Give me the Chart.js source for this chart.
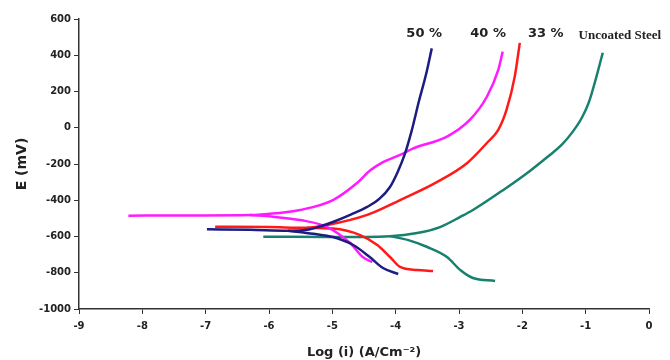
<!DOCTYPE html>
<html>
<head>
<meta charset="utf-8">
<script src="https://cdn.jsdelivr.net/npm/chart.js@4.4.1/dist/chart.umd.min.js"></script>
<style>
  html, body { margin: 0; padding: 0; background: #fff; }
  #wrap { width: 670px; height: 360px; }
</style>
</head>
<body>
<div id="wrap"><canvas id="polChart" width="670" height="360"></canvas></div>
<script>
// polarization curves: [log i, E (mV)]
// anodic = left start -> junction -> top, cathodic = junction -> bottom end
const c50Anodic = [[-6.98,-560],[-6.3,-563],[-5.7,-568],[-5.4,-563],[-5.2,-545],[-4.99,-520],[-4.7,-478],[-4.45,-437],[-4.25,-390],[-4.09,-327],[-3.97,-245],[-3.86,-150],[-3.75,-20],[-3.63,150],[-3.52,295],[-3.43,438]];
const c50Cathodic = [[-5.7,-568],[-5.3,-585],[-4.99,-603],[-4.67,-647],[-4.41,-713],[-4.2,-774],[-3.96,-807]];

const c40Anodic = [[-8.22,-485],[-7.2,-484],[-6.3,-482],[-5.9,-472],[-5.51,-454],[-4.99,-399],[-4.61,-305],[-4.4,-235],[-4.2,-190],[-3.93,-150],[-3.73,-115],[-3.19,-49],[-2.83,43],[-2.56,171],[-2.38,319],[-2.31,420]];
const c40Cathodic = [[-6.3,-482],[-5.94,-491],[-5.51,-509],[-5.08,-548],[-4.72,-636],[-4.52,-713],[-4.37,-741]];

const c33Anodic = [[-6.85,-546],[-6.0,-548],[-5.4,-552],[-5.08,-537],[-4.45,-481],[-3.93,-399],[-3.35,-300],[-2.87,-194],[-2.56,-84],[-2.38,-12],[-2.25,98],[-2.12,282],[-2.04,468]];
const c33Cathodic = [[-5.4,-552],[-4.99,-556],[-4.56,-592],[-4.29,-647],[-4.09,-713],[-3.93,-768],[-3.66,-785],[-3.41,-790]];

const steelAnodic = [[-6.09,-601],[-5.0,-603],[-4.09,-598],[-3.66,-581],[-3.30,-548],[-2.98,-492],[-2.78,-454],[-2.30,-343],[-1.88,-238],[-1.6,-160],[-1.38,-95],[-1.2,-20],[-1.06,55],[-0.95,140],[-0.83,282],[-0.73,414]];
const steelCathodic = [[-4.09,-598],[-3.8,-620],[-3.50,-658],[-3.19,-713],[-2.98,-785],[-2.78,-829],[-2.43,-845]];

const curveNames = ['50 %', '40 %', '33 %', 'Uncoated Steel'];
const curveColors = ['#1c1c82', '#ff1aff', '#ff1a1a', '#17806e'];
// where each curve name sits (log i, E)
const nameX = [-3.55, -2.54, -1.63, -0.46];
const nameY = [522, 522, 518, 506];

const xTicks = { min: -9, max: 0, step: 1 };
const yTicks = { min: -1000, max: 600, step: 200 };

function toXY(arr) {
  return arr.map(p => ({ x: p[0], y: p[1] }));
}

const branches = [
  [c50Anodic, c50Cathodic],
  [c40Anodic, c40Cathodic],
  [c33Anodic, c33Cathodic],
  [steelAnodic, steelCathodic]
];

const datasets = [];
branches.forEach((pair, i) => {
  pair.forEach(branch => {
    datasets.push({
      label: curveNames[i],
      data: toXY(branch),
      borderColor: curveColors[i],
      backgroundColor: curveColors[i],
      borderWidth: 2.5,
      pointRadius: 0,
      cubicInterpolationMode: 'monotone',
      fill: false
    });
  });
});

// writes the curve names above the curve tops
const curveLabels = {
  id: 'curveLabels',
  afterDatasetsDraw(chart) {
    const ctx = chart.ctx;
    const xs = chart.scales.x, ys = chart.scales.y;
    ctx.save();
    ctx.fillStyle = '#222';
    ctx.textAlign = 'center';
    ctx.textBaseline = 'middle';
    curveNames.forEach((name, i) => {
      ctx.font = i < 3 ? 'bold 13px "DejaVu Sans", sans-serif' : 'bold 13px "Liberation Serif", serif';
      ctx.fillText(name, xs.getPixelForValue(nameX[i]), ys.getPixelForValue(nameY[i]));
    });
    ctx.restore();
  }
};

const tickFont = { family: '"DejaVu Sans", sans-serif', size: 10, weight: 'bold' };

const chart = new Chart(document.getElementById('polChart'), {
  type: 'line',
  data: { datasets: datasets },
  options: {
    responsive: false,
    animation: false,
    layout: { padding: { top: 19, right: 21, left: 14, bottom: 0 } },
    plugins: {
      legend: { display: false },
      tooltip: { enabled: false }
    },
    scales: {
      x: {
        type: 'linear',
        min: xTicks.min,
        max: xTicks.max,
        ticks: { stepSize: xTicks.step, color: '#222', font: tickFont, padding: 6 },
        grid: { drawOnChartArea: false, drawTicks: true, tickLength: 5, color: '#333' },
        border: { display: true, color: '#333', width: 1.5 },
        title: {
          display: true,
          text: 'Log (i) (A/Cm⁻²)',
          color: '#222',
          font: { family: '"DejaVu Sans", sans-serif', size: 13, weight: 'bold' },
          padding: { top: 1, bottom: 0 }
        },
        afterFit(scale) { scale.height = 51; }
      },
      y: {
        type: 'linear',
        min: yTicks.min,
        max: yTicks.max,
        ticks: {
          stepSize: yTicks.step, color: '#222', font: tickFont, padding: 3,
          callback: v => String(v)
        },
        grid: { drawOnChartArea: false, drawTicks: true, tickLength: 5, color: '#333' },
        border: { display: true, color: '#333', width: 1.5 },
        title: {
          display: true,
          text: 'E (mV)',
          color: '#222',
          font: { family: '"DejaVu Sans", sans-serif', size: 14, weight: 'bold' },
          padding: { top: 0, bottom: 0 }
        },
        afterFit(scale) { scale.width = 65; }
      }
    }
  },
  plugins: [curveLabels]
});
</script>
</body>
</html>
